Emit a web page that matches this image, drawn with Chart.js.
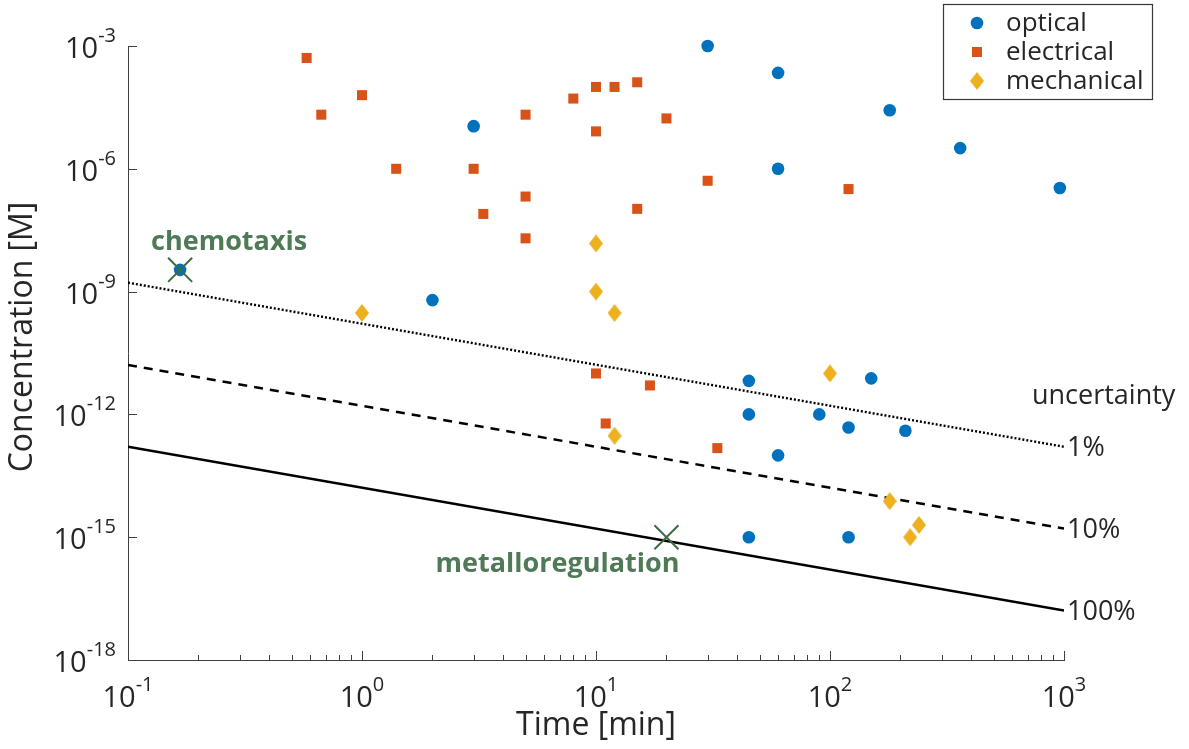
<!DOCTYPE html>
<html>
<head>
<meta charset="utf-8">
<script src="https://cdn.jsdelivr.net/npm/chart.js@4.4.1/dist/chart.umd.min.js"></script>
<style>
  html, body { margin: 0; padding: 0; background: #fff; }
  #chart { display: block; }
</style>
</head>
<body>
<canvas id="chart" width="1189" height="749"></canvas>
<script>
// tick values
const xTicks = [0.1, 1, 10, 100, 1000];
const yTicks = [1e-3, 1e-6, 1e-9, 1e-12, 1e-15, 1e-18];

// optical
const opticalT = [0.167, 2, 3, 30, 60, 60, 180, 360, 960, 45, 45, 60, 45, 90, 120, 150, 210, 120];
const opticalC = [3.4e-9, 6.2e-10, 1.1e-5, 1e-3, 2.2e-4, 1e-6, 2.7e-5, 3.2e-6, 3.4e-7, 6.6e-12, 1e-12, 1e-13, 1e-15, 1e-12, 4.8e-13, 7.6e-12, 4e-13, 1e-15];

// electrical
const electricalT = [0.58, 0.67, 1, 1.4, 5, 8, 10, 12, 15, 20, 10, 3, 5, 3.3, 5, 15, 30, 120, 10, 17, 11, 33];
const electricalC = [5.1e-4, 2.1e-5, 6.3e-5, 1e-6, 2.1e-5, 5.2e-5, 1e-4, 1e-4, 1.3e-4, 1.7e-5, 8.2e-6, 1e-6, 2.1e-7, 7.9e-8, 2e-8, 1.05e-7, 5.1e-7, 3.2e-7, 1e-11, 5.1e-12, 6e-13, 1.5e-13];

// mechanical
const mechanicalT = [1, 10, 10, 12, 12, 100, 180, 240, 220];
const mechanicalC = [3e-10, 1.5e-8, 1e-9, 3e-10, 3e-13, 1e-11, 7.6e-15, 2e-15, 1e-15];

// uncertainty lines (end points)
const lineT = [0.1, 1000];
const line1 = [1.65e-9, 1.62e-13];
const line10 = [1.62e-11, 1.62e-15];
const line100 = [1.62e-13, 1.62e-17];
const lineLabels = ['1%', '10%', '100%'];

// marked systems
const markT = [0.167, 20];
const markC = [3.4e-9, 1e-15];
const markNames = ['chemotaxis', 'metalloregulation'];

const FONT = "'Open Sans', 'DejaVu Sans', sans-serif";
const TEXT = '#262626';
const BLUE = '#0072BD', ORANGE = '#D95319', YELLOW = '#EDB120', GREEN = '#4E7A56';

function pts(xs, ys) {
  return xs.map((v, i) => ({ x: v, y: ys[i] }));
}

// taller-than-wide diamond like MATLAB's
function makeDiamond(w, h, color) {
  const c = document.createElement('canvas');
  c.width = w; c.height = h;
  const g = c.getContext('2d');
  g.fillStyle = color;
  g.beginPath();
  g.moveTo(w / 2, 0);
  g.lineTo(w, h / 2);
  g.lineTo(w / 2, h);
  g.lineTo(0, h / 2);
  g.closePath();
  g.fill();
  return c;
}
const diamond = makeDiamond(14, 18, YELLOW);

function drawPow(ctx, exp, x, y, align) {
  ctx.font = '29px ' + FONT;
  const bw = ctx.measureText('10').width;
  ctx.font = '20px ' + FONT;
  const ew = ctx.measureText(exp).width;
  let x0 = x;
  if (align === 'right') x0 = x - bw - ew;
  if (align === 'center') x0 = x - (bw + ew) / 2;
  ctx.textAlign = 'left';
  ctx.textBaseline = 'alphabetic';
  ctx.font = '29px ' + FONT;
  ctx.fillText('10', x0, y + 12);
  ctx.font = '20px ' + FONT;
  ctx.fillText(exp, x0 + bw, y - 4);
}

const customDraw = {
  id: 'customDraw',
  afterDraw(chart) {
    const { ctx, chartArea: a, scales: { x, y } } = chart;
    ctx.save();

    // inward ticks
    ctx.strokeStyle = '#404040';
    ctx.lineWidth = 1;
    ctx.beginPath();
    xTicks.forEach((t, i) => {
      const px = Math.round(x.getPixelForValue(t)) + 0.5;
      ctx.moveTo(px, a.bottom); ctx.lineTo(px, a.bottom - 9);
      if (i < xTicks.length - 1) {
        for (let k = 2; k <= 9; k++) {
          const mx = Math.round(x.getPixelForValue(t * k)) + 0.5;
          ctx.moveTo(mx, a.bottom); ctx.lineTo(mx, a.bottom - 5);
        }
      }
    });
    yTicks.forEach(t => {
      const py = Math.round(y.getPixelForValue(t)) + 0.5;
      ctx.moveTo(a.left, py); ctx.lineTo(a.left + 9, py);
    });
    ctx.stroke();

    // tick labels
    ctx.fillStyle = TEXT;
    xTicks.forEach(t => {
      drawPow(ctx, String(Math.round(Math.log10(t))), x.getPixelForValue(t), a.bottom + 35, 'center');
    });
    yTicks.forEach(t => {
      drawPow(ctx, String(Math.round(Math.log10(t))), a.left - 12, y.getPixelForValue(t), 'right');
    });

    // axis titles
    ctx.font = '32px ' + FONT;
    ctx.textAlign = 'center';
    ctx.textBaseline = 'middle';
    ctx.fillText('Time [min]', (a.left + a.right) / 2, 726);
    ctx.save();
    ctx.translate(23, 337);
    ctx.rotate(-Math.PI / 2);
    ctx.fillText('Concentration [M]', 0, 0);
    ctx.restore();

    // uncertainty labels
    ctx.font = '27px ' + FONT;
    ctx.textAlign = 'left';
    ctx.textBaseline = 'middle';
    [line1, line10, line100].forEach((l, i) => {
      ctx.fillText(lineLabels[i], a.right + 3, y.getPixelForValue(l[1]) + 2);
    });
    ctx.fillText('uncertainty', a.right - 32, y.getPixelForValue(line1[1]) - 50);

    // marked system names
    ctx.fillStyle = GREEN;
    ctx.font = 'bold 27px ' + FONT;
    ctx.textAlign = 'center';
    const offs = [[49, -28], [-109, 27]];
    markNames.forEach((n, i) => {
      ctx.fillText(n, x.getPixelForValue(markT[i]) + offs[i][0], y.getPixelForValue(markC[i]) + offs[i][1]);
    });

    // legend
    const lx = 943, ly = 4, lw = 209, lh = 95;
    ctx.fillStyle = '#fff';
    ctx.fillRect(lx, ly, lw, lh);
    ctx.strokeStyle = '#3a3a3a';
    ctx.lineWidth = 1.2;
    ctx.strokeRect(lx + 0.5, ly + 0.5, lw, lh);
    const rows = [23, 52, 81];
    const names = chart.data.datasets.slice(0, 3).map(d => d.label);
    ctx.fillStyle = BLUE;
    ctx.beginPath(); ctx.arc(977, rows[0], 6.3, 0, Math.PI * 2); ctx.fill();
    ctx.fillStyle = ORANGE;
    ctx.fillRect(972, rows[1] - 5, 10, 10);
    ctx.drawImage(diamond, 977 - 7, rows[2] - 9);
    ctx.fillStyle = TEXT;
    ctx.font = '26px ' + FONT;
    ctx.textAlign = 'left';
    ctx.textBaseline = 'middle';
    names.forEach((n, i) => ctx.fillText(n, 1006, rows[i] + 1));

    ctx.restore();
  }
};

new Chart(document.getElementById('chart'), {
  type: 'scatter',
  data: {
    datasets: [
      { label: 'optical', data: pts(opticalT, opticalC), backgroundColor: BLUE, borderWidth: 0,
        pointStyle: 'circle', pointRadius: 6.3, order: 2, clip: false },
      { label: 'electrical', data: pts(electricalT, electricalC), backgroundColor: ORANGE, borderWidth: 0,
        pointStyle: 'rect', pointRadius: 7.1, order: 3, clip: false },
      { label: 'mechanical', data: pts(mechanicalT, mechanicalC), backgroundColor: YELLOW, borderWidth: 0,
        pointStyle: diamond, order: 1, clip: false },
      { label: 'marks', data: pts(markT, markC), borderColor: '#3D6B47', backgroundColor: 'transparent',
        pointStyle: 'crossRot', pointRadius: 17, borderWidth: 2, order: 0, clip: false },
      { label: '1%', data: pts(lineT, line1), showLine: true, borderColor: '#000', borderWidth: 2.4,
        borderDash: [2, 2], pointRadius: 0, order: 10 },
      { label: '10%', data: pts(lineT, line10), showLine: true, borderColor: '#000', borderWidth: 2.5,
        borderDash: [9, 7], pointRadius: 0, order: 10 },
      { label: '100%', data: pts(lineT, line100), showLine: true, borderColor: '#000', borderWidth: 2.5,
        pointRadius: 0, order: 10 }
    ]
  },
  options: {
    responsive: false,
    animation: false,
    devicePixelRatio: 1,
    layout: { padding: { top: 46, right: 125, left: 0, bottom: 0 } },
    plugins: { legend: { display: false }, tooltip: { enabled: false } },
    scales: {
      x: {
        type: 'logarithmic', min: 0.1, max: 1000,
        grid: { display: false },
        border: { display: true, color: '#404040', width: 1 },
        ticks: { display: false },
        afterFit: s => { s.height = 89; }
      },
      y: {
        type: 'logarithmic', min: 1e-18, max: 1e-3,
        grid: { display: false },
        border: { display: true, color: '#404040', width: 1 },
        ticks: { display: false },
        afterFit: s => { s.width = 128; }
      }
    }
  },
  plugins: [customDraw]
});
</script>
</body>
</html>
